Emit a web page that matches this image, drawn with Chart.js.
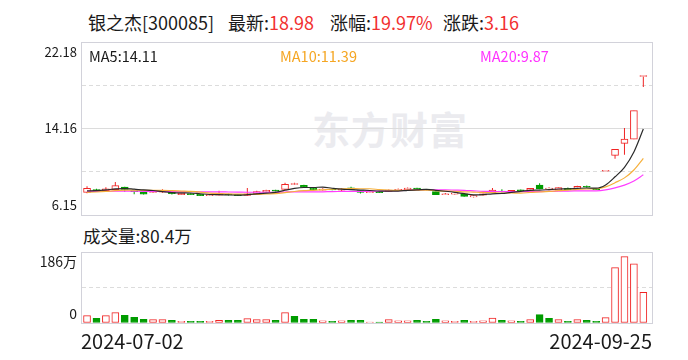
<!DOCTYPE html>
<html>
<head>
<meta charset="utf-8">
<script src="https://cdn.jsdelivr.net/npm/chart.js@4.4.1/dist/chart.umd.min.js"></script>
<style>
  html, body { margin: 0; padding: 0; background: #fff; }
  #wrap { position: relative; width: 688px; height: 360px; overflow: hidden;
          font-family: "Noto Sans CJK SC", "Liberation Sans", sans-serif; }
  .t { position: absolute; white-space: nowrap; line-height: 1; color: #1a1a1a; }
  .r { color: #f23030; }
  canvas { position: absolute; left: 0; z-index: 1; }
  #mark { font-size: 38px; font-weight: 700; color: #ebebef; z-index: 0; letter-spacing: 1px; }
</style>
</head>
<body>
<div id="wrap">
  <div class="t" style="left:88px;top:13px;font-size:18px">银之杰[300085]</div>
  <div class="t" style="left:228px;top:13px;font-size:18px">最新:<span class="r">18.98</span></div>
  <div class="t" style="left:330px;top:13px;font-size:18px">涨幅:<span class="r">19.97%</span></div>
  <div class="t" style="left:443px;top:13px;font-size:18px">涨跌:<span class="r">3.16</span></div>

  <div class="t" id="mark" style="left:312px;top:109px">东方财富</div>

  <div class="t" style="left:89px;top:49px;font-size:14.5px;color:#1a1a1a;z-index:2">MA5:14.11</div>
  <div class="t" style="left:280px;top:49px;font-size:14.5px;color:#f5a623;z-index:2">MA10:11.39</div>
  <div class="t" style="left:480px;top:49px;font-size:14.5px;color:#ff33ff;z-index:2">MA20:9.87</div>

  <div class="t" style="left:83px;top:227px;font-size:17.5px">成交量:80.4万</div>

  <canvas id="price" width="688" height="250" style="top:0"></canvas>
  <canvas id="volume" width="688" height="140" style="top:220px"></canvas>
</div>

<script>
// daily K-line, 2024-07-02 .. 2024-09-25 (60 sessions)
const xLabels = ["2024-07-02", "2024-09-25"]

const opens = [
  8.25, 8.50, 8.40, 8.50, 8.74, 8.37, 8.28, 8.25, 8.27, 8.25,
  8.03, 8.14, 8.06, 7.94, 7.98, 8.10, 8.02, 7.96, 8.14, 8.28,
  8.44, 8.53, 8.98, 8.90, 8.66, 8.46, 8.55, 8.44, 8.66, 8.42,
  8.21, 8.33, 8.34, 8.44, 8.50, 8.65, 8.50, 8.31, 8.03, 8.08,
  8.12, 7.82, 7.98, 8.21, 8.37, 8.25, 8.44, 8.45, 8.93, 8.55,
  8.44, 8.62, 8.62, 8.78, 8.56, 10.20, 11.68, 12.79, 13.18, 18.98,
]
const highs = [
  8.81, 8.58, 8.72, 9.21, 8.76, 8.40, 8.33, 8.33, 8.53, 8.28,
  8.18, 8.18, 8.08, 8.02, 8.40, 8.12, 8.05, 8.65, 8.40, 8.48,
  8.50, 9.14, 9.14, 8.95, 8.68, 8.62, 8.57, 8.65, 8.77, 8.43,
  8.36, 8.35, 8.52, 8.60, 8.70, 8.67, 8.56, 8.33, 8.20, 8.18,
  8.14, 7.97, 8.15, 8.65, 8.54, 8.47, 8.52, 8.64, 9.09, 8.72,
  8.70, 8.70, 8.85, 8.88, 8.58, 10.20, 12.24, 14.21, 15.82, 18.98,
]
const lows = [
  8.16, 8.36, 8.38, 8.48, 8.31, 8.07, 8.05, 8.20, 8.22, 8.05,
  8.00, 8.02, 7.92, 7.90, 7.96, 7.96, 7.92, 7.94, 8.12, 8.26,
  8.33, 8.50, 8.95, 8.66, 8.44, 8.42, 8.44, 8.38, 8.50, 8.15,
  8.19, 8.20, 8.30, 8.42, 8.48, 8.48, 8.42, 8.00, 8.00, 8.05,
  7.85, 7.77, 7.95, 8.18, 8.22, 8.23, 8.38, 8.43, 8.54, 8.44,
  8.42, 8.48, 8.60, 8.68, 8.47, 10.20, 11.37, 11.74, 13.18, 18.01,
]
const closes = [
  8.62, 8.40, 8.58, 8.87, 8.53, 8.31, 8.07, 8.30, 8.32, 8.13,
  8.16, 8.04, 7.94, 7.98, 8.10, 8.00, 7.95, 8.12, 8.32, 8.44,
  8.36, 9.00, 8.98, 8.70, 8.48, 8.52, 8.47, 8.52, 8.53, 8.24,
  8.33, 8.22, 8.46, 8.53, 8.65, 8.50, 8.47, 8.03, 8.12, 8.14,
  7.88, 7.94, 8.12, 8.46, 8.28, 8.44, 8.40, 8.62, 8.56, 8.55,
  8.68, 8.50, 8.80, 8.72, 8.50, 10.20, 12.24, 13.18, 15.82, 18.98,
]
// volume in 万手
const volumes = [
  19.2, 12.2, 19.2, 27, 20, 14.8, 9.6, 8.7, 8.7, 7,
  4.4, 4.4, 4.4, 4.4, 7, 7, 7, 11.3, 8.7, 8.7,
  7, 27, 17.5, 9.6, 9.6, 6, 4.4, 6, 7, 7,
  1.7, 1.7, 8.7, 6, 6, 7, 4.4, 9.6, 6, 4.4,
  7, 4.4, 6, 13, 7, 6, 4.4, 8.7, 21.8, 12.2,
  8.7, 4.4, 8.7, 7, 4.4, 14, 145, 174, 155, 80.4,
]
const ma5 = [
  8.38, 8.40, 8.47, 8.57, 8.60, 8.54, 8.47, 8.42, 8.31, 8.23,
  8.20, 8.19, 8.12, 8.05, 8.04, 8.01, 7.99, 8.03, 8.10, 8.17,
  8.24, 8.45, 8.62, 8.70, 8.70, 8.74, 8.63, 8.54, 8.50, 8.46,
  8.42, 8.37, 8.36, 8.36, 8.44, 8.47, 8.52, 8.44, 8.35, 8.25,
  8.13, 8.02, 8.04, 8.11, 8.14, 8.25, 8.34, 8.44, 8.46, 8.51,
  8.56, 8.58, 8.62, 8.65, 8.64, 8.94, 9.69, 10.57, 11.99, 14.11,
]
const ma10 = [
  8.25, 8.28, 8.33, 8.41, 8.45, 8.46, 8.44, 8.44, 8.44, 8.41,
  8.37, 8.33, 8.27, 8.18, 8.14, 8.10, 8.09, 8.07, 8.07, 8.11,
  8.13, 8.22, 8.33, 8.40, 8.44, 8.49, 8.54, 8.58, 8.60, 8.58,
  8.58, 8.50, 8.45, 8.43, 8.45, 8.45, 8.45, 8.40, 8.36, 8.35,
  8.30, 8.27, 8.24, 8.23, 8.19, 8.19, 8.18, 8.24, 8.28, 8.33,
  8.41, 8.46, 8.53, 8.56, 8.58, 8.75, 9.14, 9.59, 10.32, 11.39,
]
const ma20 = [
  8.33, 8.33, 8.34, 8.36, 8.37, 8.36, 8.34, 8.34, 8.34, 8.32,
  8.31, 8.31, 8.30, 8.29, 8.29, 8.28, 8.27, 8.26, 8.26, 8.26,
  8.25, 8.28, 8.30, 8.29, 8.29, 8.30, 8.32, 8.33, 8.34, 8.34,
  8.35, 8.36, 8.39, 8.41, 8.44, 8.47, 8.49, 8.49, 8.48, 8.46,
  8.44, 8.39, 8.34, 8.33, 8.32, 8.32, 8.31, 8.32, 8.32, 8.34,
  8.35, 8.37, 8.38, 8.39, 8.39, 8.47, 8.66, 8.92, 9.30, 9.87,
]

const priceTicks = [6.15, 10.16, 14.16, 18.17, 22.18]
const priceTickLabels = ["6.15", "", "14.16", "", "22.18"]
const volTicks = [0, 93, 186]
const volTickLabels = ["0", "", "186万"]

const UP = "#f02424"
const DOWN = "#009c00"
const MA_COLORS = ["#2a2a2a", "#f6b03c", "#ff3cff"]
const FRAME = "#d2d2da"
const GRID = "#dcdcdc"
const FONT = '"Noto Sans CJK SC", "Liberation Sans", sans-serif'

// slot layout: first candle sits ~6px inside the frame, last ~9px
const X_MIN = -0.64
const X_MAX = 59.92

const isUp = closes.map((c, i) => c >= opens[i])
const volUp = closes.map((c, i) =>
  c > opens[i] || (c === opens[i] && (i === 0 || c >= closes[i - 1])))

const pts = (arr) => arr.map((v, i) => ({ x: i, y: v }))

// labels at the frame edges sit inside the frame, like the original
function edgeLabel(labels, i) {
  const lab = labels[i]
  if (i === 0) return [lab, ""]
  if (i === labels.length - 1) return ["", lab]
  return lab
}

function alignPx(p) {
  return Math.round(p - 0.5) + 0.5
}

const framePlugin = {
  id: "frame",
  afterDraw(chart) {
    const { ctx, chartArea: a } = chart
    const l = alignPx(a.left), t = alignPx(a.top)
    const r = alignPx(a.right), b = alignPx(a.bottom)
    ctx.save()
    ctx.strokeStyle = FRAME
    ctx.lineWidth = 1
    ctx.strokeRect(l, t, r - l, b - t)
    ctx.restore()
  },
}

Chart.defaults.font.family = FONT
Chart.defaults.animation = false

function maLine(data, color) {
  return {
    type: "line",
    data: pts(data),
    borderColor: color,
    borderWidth: 1.2,
    pointRadius: 0,
    cubicInterpolationMode: "monotone",
    order: 0,
  }
}

new Chart(document.getElementById("price"), {
  type: "bar",
  data: {
    datasets: [
      maLine(ma5, MA_COLORS[0]),
      maLine(ma10, MA_COLORS[1]),
      maLine(ma20, MA_COLORS[2]),
      {
        // candle bodies: hollow red when up, solid green when down
        data: closes.map((c, i) => ({ x: i, y: [Math.min(opens[i], c), Math.max(opens[i], c)] })),
        backgroundColor: isUp.map((u) => (u ? "#ffffff" : DOWN)),
        borderColor: isUp.map((u) => (u ? UP : DOWN)),
        borderWidth: 1,
        borderSkipped: false,
        barThickness: 7,
        minBarLength: 1,
        grouped: false,
        order: 1,
      },
      {
        // wicks
        data: lows.map((l, i) => ({ x: i, y: [l, highs[i]] })),
        backgroundColor: isUp.map((u) => (u ? UP : DOWN)),
        borderWidth: 0,
        barThickness: 1,
        inflateAmount: 0,
        grouped: false,
        order: 2,
      },
    ],
  },
  options: {
    responsive: false,
    devicePixelRatio: 1,
    layout: { padding: { left: 0, right: 36, top: 42, bottom: 35 } },
    plugins: { legend: { display: false }, tooltip: { enabled: false } },
    scales: {
      x: {
        type: "linear",
        min: X_MIN,
        max: X_MAX,
        offset: false,
        display: false,
        grid: { display: false, offset: false },
      },
      y: {
        min: 6.15,
        max: 22.18,
        afterBuildTicks: (s) => { s.ticks = priceTicks.map((v) => ({ value: v })) },
        afterFit: (s) => { s.width = 81 },
        ticks: {
          autoSkip: false,
          padding: 4,
          color: "#1a1a1a",
          font: { size: 13, lineHeight: 1.5 },
          callback: (v, i) => edgeLabel(priceTickLabels, i),
        },
        grid: { color: GRID, drawTicks: false },
        border: {
          color: FRAME,
          dash: (ctx) => (ctx.type === "tick" && priceTickLabels[ctx.index] === "" ? [4, 3] : []),
        },
      },
    },
  },
  plugins: [framePlugin],
})

new Chart(document.getElementById("volume"), {
  type: "bar",
  data: {
    datasets: [
      {
        data: pts(volumes),
        backgroundColor: volUp.map((u) => (u ? "#ffffff" : DOWN)),
        borderColor: volUp.map((u) => (u ? UP : DOWN)),
        borderWidth: 1,
        borderSkipped: false,
        barThickness: 7,
        minBarLength: 1,
        grouped: false,
      },
    ],
  },
  options: {
    responsive: false,
    devicePixelRatio: 1,
    layout: { padding: { left: 0, right: 36, top: 32, bottom: 0 } },
    plugins: { legend: { display: false }, tooltip: { enabled: false } },
    scales: {
      x: {
        type: "linear",
        min: X_MIN,
        max: X_MAX,
        offset: false,
        afterBuildTicks: (s) => { s.ticks = [{ value: X_MIN }, { value: X_MAX }] },
        afterFit: (s) => { s.height = 37 },
        ticks: {
          autoSkip: false,
          maxRotation: 0,
          align: "inner",
          padding: 6,
          color: "#1a1a1a",
          font: { size: 20 },
          callback: (v, i) => xLabels[i],
        },
        grid: { display: false, offset: false, drawTicks: false },
        border: { display: false },
      },
      y: {
        min: 0,
        max: 186,
        afterBuildTicks: (s) => { s.ticks = volTicks.map((v) => ({ value: v })) },
        afterFit: (s) => { s.width = 81 },
        ticks: {
          autoSkip: false,
          padding: 4,
          color: "#1a1a1a",
          font: { size: 14, lineHeight: 1.4 },
          callback: (v, i) => edgeLabel(volTickLabels, i),
        },
        grid: { color: GRID, drawTicks: false },
        border: {
          color: FRAME,
          dash: (ctx) => (ctx.type === "tick" && volTickLabels[ctx.index] === "" ? [4, 3] : []),
        },
      },
    },
  },
  plugins: [framePlugin],
})
</script>
</body>
</html>
